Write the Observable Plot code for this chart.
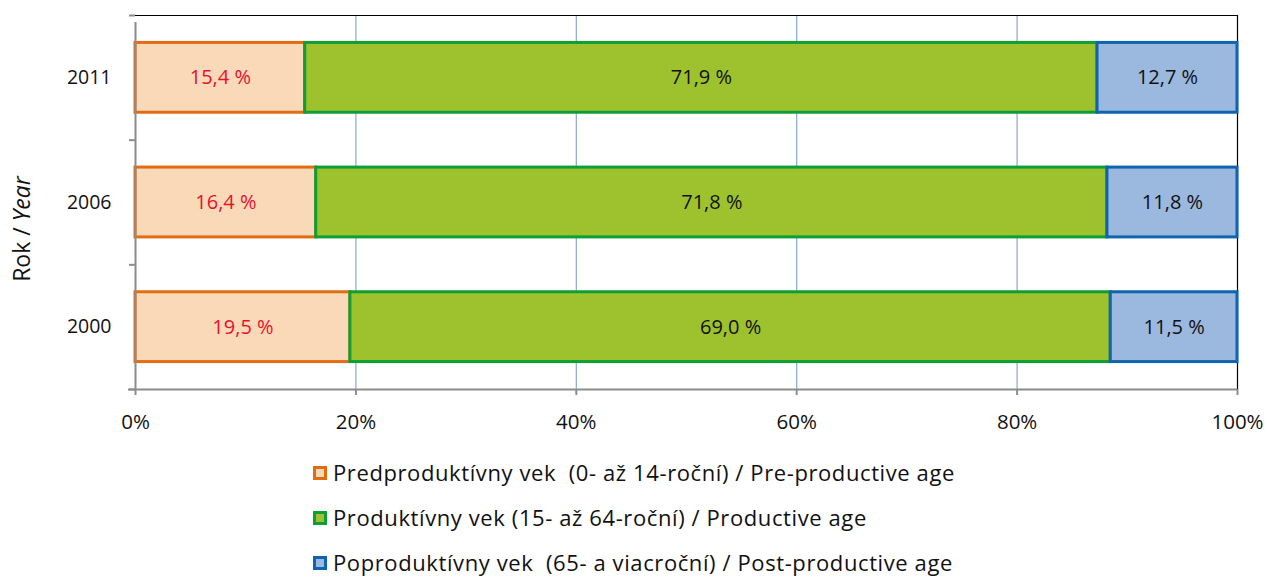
<!DOCTYPE html>
<html>
<head>
<meta charset="utf-8">
<script src="https://cdn.jsdelivr.net/npm/d3@7"></script>
<script src="https://cdn.jsdelivr.net/npm/@observablehq/plot@0.6"></script>
<style>
  body { margin: 0; background: #fff; font-family: "Open Sans", sans-serif; }
  #chart svg { display: block; }
  .legend { margin-left: 313px; margin-top: 10px; }
  .legend .item { display: flex; align-items: center; height: 45px; line-height: 45px; font-size: 22px; letter-spacing: 0.6px; color: #111; }
  .legend .sw { width: 8px; height: 8px; border: 3px solid; margin-right: 6px; flex: none; }
</style>
</head>
<body>
<div id="chart"></div>
<div class="legend" id="legend"></div>
<script>
// Data
const years = ["2000", "2006", "2011"];
const groups = [
  "Predproduktívny vek  (0- až 14-roční) / Pre-productive age",
  "Produktívny vek (15- až 64-roční) / Productive age",
  "Poproduktívny vek  (65- a viacroční) / Post-productive age"
];
const preProductive = [19.5, 16.4, 15.4];
const productive = [69.0, 71.8, 71.9];
const postProductive = [11.5, 11.8, 12.7];
const xTicks = [0, 20, 40, 60, 80, 100];
const gridTicks = [20, 40, 60, 80];

const fills = ["#FAD9B8", "#9DC22E", "#9BB8DF"];
const strokes = ["#E36C12", "#0D9E36", "#0E64AF"];
const labelColors = ["#E8112D", "#111111", "#111111"];

// Build table
const series = [preProductive, productive, postProductive];
const rows = [];
years.forEach((yr, i) => {
  let acc = 0;
  series.forEach((s, g) => {
    rows.push({year: yr, idx: i, group: g, value: s[i], x1: acc, x2: acc + s[i]});
    acc += s[i];
  });
});
const fmt = v => v.toFixed(1).replace(".", ",") + " %";

const chart = Plot.plot({
  width: 1267,
  height: 440,
  marginLeft: 135,
  marginRight: 30,
  marginTop: 15,
  marginBottom: 51,
  style: {fontFamily: "Open Sans, sans-serif", fontSize: "19px", color: "#111", background: "#fff"},
  x: {domain: [0, 100]},
  y: {domain: [0, years.length]},
  marks: [
    Plot.ruleX(gridTicks, {stroke: "#86A9D8", strokeWidth: 1.2}),
    Plot.ruleX([100], {stroke: "#000", strokeWidth: 1.2}),
    Plot.ruleY([years.length], {stroke: "#000", strokeWidth: 1.2}),
    Plot.rect(rows, {
      x1: "x1", x2: "x2",
      y1: d => d.idx + 0.22, y2: d => d.idx + 0.78,
      fill: d => fills[d.group], stroke: d => strokes[d.group], strokeWidth: 3
    }),
    Plot.text(rows, {
      x: d => (d.x1 + d.x2) / 2, y: d => d.idx + 0.5,
      text: d => fmt(d.value), fill: d => labelColors[d.group], fontSize: 20
    }),
    Plot.ruleX([0], {stroke: "#8c8c8c", strokeWidth: 2, y1: 0, y2: years.length, insetBottom: -7}),
    Plot.ruleY([0], {stroke: "#8c8c8c", strokeWidth: 2, insetLeft: -7}),
    Plot.axisX({ticks: xTicks, tickFormat: d => d + "%", tickSize: 6, tickPadding: 19, stroke: "#8c8c8c", strokeWidth: 2, fontSize: 20.5, letterSpacing: 0.6}),
    Plot.axisY({ticks: d3.range(years.length + 1), tickFormat: () => "", tickSize: 6, stroke: "#8c8c8c", strokeWidth: 2, label: null}),
    Plot.axisY({ticks: years.map((y, i) => i + 0.5), tickFormat: (d) => years[Math.floor(d)], tickSize: 0, tickPadding: 24, fontSize: 19.5, label: null})
  ]
});

// Y axis title
const svg = d3.select(chart);
const t = svg.append("text")
  .attr("transform", "translate(30,229) rotate(-90)")
  .attr("text-anchor", "middle")
  .attr("font-size", 23)
  .attr("fill", "#111");
t.append("tspan").text("Rok / ");
t.append("tspan").attr("font-style", "italic").text("Year");

document.getElementById("chart").appendChild(chart);

const legend = document.getElementById("legend");
groups.forEach((g, i) => {
  const item = document.createElement("div");
  item.className = "item";
  const sw = document.createElement("span");
  sw.className = "sw";
  sw.style.background = fills[i];
  sw.style.borderColor = strokes[i];
  item.appendChild(sw);
  const label = document.createElement("span");
  label.textContent = g;
  label.style.whiteSpace = "pre";
  item.appendChild(label);
  legend.appendChild(item);
});
</script>
</body>
</html>
